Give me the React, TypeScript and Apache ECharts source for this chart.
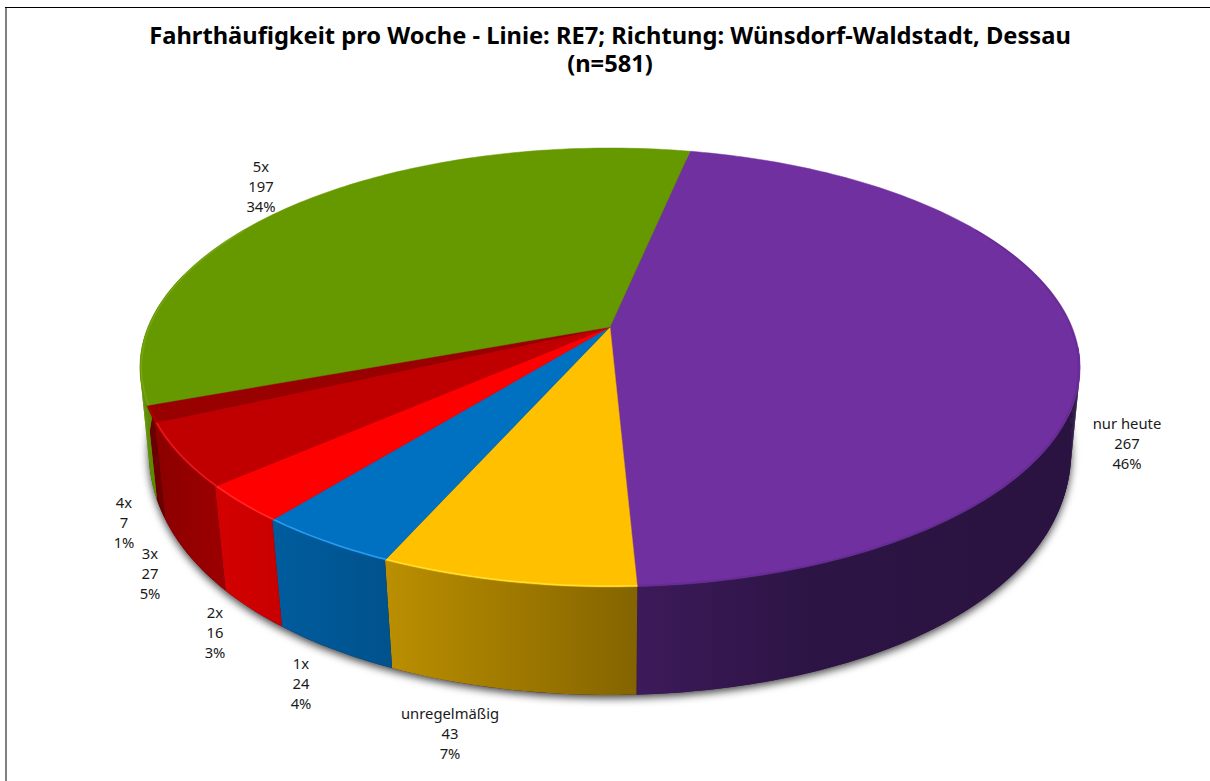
import React, { useEffect, useRef } from "react";
import * as echarts from "echarts";

const categories = ["nur heute", "unregelmäßig", "1x", "2x", "3x", "4x", "5x"];
const values = [267, 43, 24, 16, 27, 7, 197];
const percentLabels = ["46%", "7%", "4%", "3%", "5%", "1%", "34%"];

const titleText =
  "Fahrthäufigkeit pro Woche - Linie: RE7; Richtung: Wünsdorf-Waldstadt, Dessau\n(n=581)";

const topColors = ["#7030a0", "#ffc000", "#0070c0", "#ff0000", "#c00000", "#990000", "#669900"];
const edgeColors = ["#672c94", "#ffe030", "#2a9cf0", "#ff2a2a", "#e81a1a", "#b00000", "#76a414"];
const wallStops: [number, string][][] = [
  [[0, "#3d1a5a"], [0.4, "#2c1444"], [1, "#2a1340"]],
  [[0, "#bb8f00"], [1, "#846400"]],
  [[0, "#005c9e"], [1, "#00528c"]],
  [[0, "#d40000"], [1, "#c80000"]],
  [[0, "#8c0000"], [1, "#9c0000"]],
  [[0, "#6c0000"], [1, "#6c0000"]],
  [[0, "#5c8c00"], [1, "#5c8c00"]],
];

const START_DEG = 11.8;
const TOP = { cx: 610, cy: 327, fx: 462, fy: 212, kx: 0.1845, ky: 0.1845 };
const BOTTOM = { cx: 610, cy: 403.7, fx: 454.6, fy: 268, kx: 0.17, ky: 0.08 };
const VISIBLE_WALL = [95, 285];

const labelAnchors: [number, number][] = [
  [1127, 443], [450, 733], [301, 683], [215, 632], [150, 573], [124, 522], [261, 186],
];

type Disc = typeof TOP;
const total = values.reduce((a, b) => a + b, 0);
const startOf = (i: number) =>
  START_DEG + (values.slice(0, i).reduce((a, b) => a + b, 0) * 360) / total;
const sweepOf = (i: number) => (values[i] * 360) / total;

function project(d: Disc, deg: number, r = 1): [number, number] {
  const t = (deg * Math.PI) / 180;
  const X = r * Math.sin(t);
  const Z = r * Math.cos(t);
  return [d.cx + (d.fx * X) / (1 + d.kx * Z), d.cy - (d.fy * Z) / (1 + d.ky * Z)];
}

function arc(d: Disc, a0: number, a1: number, r = 1): [number, number][] {
  const n = Math.max(2, Math.ceil(Math.abs(a1 - a0)));
  const pts: [number, number][] = [];
  for (let i = 0; i <= n; i++) pts.push(project(d, a0 + ((a1 - a0) * i) / n, r));
  return pts;
}

export default function App() {
  const ref = useRef<HTMLDivElement>(null);
  useEffect(() => {
    document.body.style.margin = "0";
    const chart = echarts.init(ref.current!, undefined, { renderer: "svg" });
    const FONT = "'Noto Sans', sans-serif";
    const seriesData = values.map((v, i) => ({ name: categories[i], value: v }));
    chart.setOption({
      animation: false,
      backgroundColor: "#ffffff",
      graphic: [
        { type: "line", silent: true, shape: { x1: 6, y1: 7, x2: 6, y2: 781 }, style: { stroke: "#808080", lineWidth: 2 } },
        { type: "line", silent: true, shape: { x1: 5, y1: 7.5, x2: 1210, y2: 7.5 }, style: { stroke: "#000000", lineWidth: 1 } },
        {
          type: "text",
          silent: true,
          x: 610,
          y: 49,
          style: {
            text: titleText,
            fill: "#000",
            font: `bold 23.7px ${FONT}`,
            lineHeight: 28,
            align: "center",
            verticalAlign: "middle",
          },
        },
      ],
      series: [
        {
          type: "custom",
          coordinateSystem: "none",
          silent: true,
          z: 1,
          data: [0],
          renderItem: () => ({
            type: "polygon",
            shape: { points: arc(BOTTOM, 0, 360) },
            style: {
              fill: "#2a1340",
              shadowBlur: 8,
              shadowColor: "rgba(0,0,0,0.75)",
              shadowOffsetX: 0,
              shadowOffsetY: 3,
            },
          }),
        },
        {
          type: "custom",
          coordinateSystem: "none",
          silent: true,
          z: 2,
          data: seriesData,
          renderItem: (params: any) => {
            const i = params.dataIndex;
            const a0 = Math.max(startOf(i), VISIBLE_WALL[0]);
            const a1 = Math.min(startOf(i) + sweepOf(i), VISIBLE_WALL[1]);
            if (a1 <= a0) return { type: "group", children: [] };
            const top = arc(TOP, a0, a1);
            const bottom = arc(BOTTOM, a1, a0);
            const pts = top.concat(bottom);
            const xs = pts.map((p) => p[0]);
            const fill = {
              type: "linear",
              global: true,
              x: Math.min(...xs),
              y: 0,
              x2: Math.max(...xs),
              y2: 0,
              colorStops: wallStops[i].map(([offset, color]) => ({ offset, color })),
            };
            const children: any[] = [{ type: "polygon", shape: { points: pts }, style: { fill } }];
            // the wall's outline on the far sides is the sweep of its vertical edges, not its arcs
            for (let a = a0; a < a1; a += 1) {
              if (Math.abs(a - 180) < 55) continue;
              const b = Math.min(a + 1, a1);
              children.push({
                type: "polygon",
                shape: { points: [project(TOP, a), project(TOP, b), project(BOTTOM, b), project(BOTTOM, a)] },
                style: { fill },
              });
            }
            return { type: "group", children };
          },
        },
        {
          type: "custom",
          coordinateSystem: "none",
          silent: true,
          z: 3,
          data: seriesData,
          renderItem: (params: any) => {
            const i = params.dataIndex;
            const a0 = startOf(i);
            const a1 = a0 + sweepOf(i);
            const rim = arc(TOP, a0, a1);
            const frontRim = arc(TOP, Math.max(a0, 60), Math.min(a1, 300), 0.997);
            const children: any[] = [
              {
                type: "polygon",
                shape: { points: [[TOP.cx, TOP.cy], ...rim] },
                style: { fill: topColors[i], stroke: topColors[i], lineWidth: 0.5 },
              },
            ];
            if (Math.min(a1, 300) > Math.max(a0, 60)) {
              children.push({
                type: "polyline",
                shape: { points: frontRim },
                style: { fill: "none", stroke: edgeColors[i], lineWidth: 1.5 },
              });
            }
            return { type: "group", children };
          },
        },
        {
          type: "custom",
          coordinateSystem: "none",
          silent: true,
          z: 4,
          data: seriesData,
          renderItem: (params: any, api: any) => {
            const i = params.dataIndex;
            const [x, y] = labelAnchors[i];
            return {
              type: "text",
              x,
              y,
              style: {
                text: `${categories[i]}\n${api.value(0)}\n${percentLabels[i]}`,
                font: `14.8px ${FONT}`,
                lineHeight: 20,
                fill: "#1a1a1a",
                align: "center",
                verticalAlign: "middle",
              },
            };
          },
        },
      ],
    });
    return () => chart.dispose();
  }, []);
  return <div ref={ref} style={{ position: "fixed", left: 0, top: 0, width: 1210, height: 781 }} />;
}
